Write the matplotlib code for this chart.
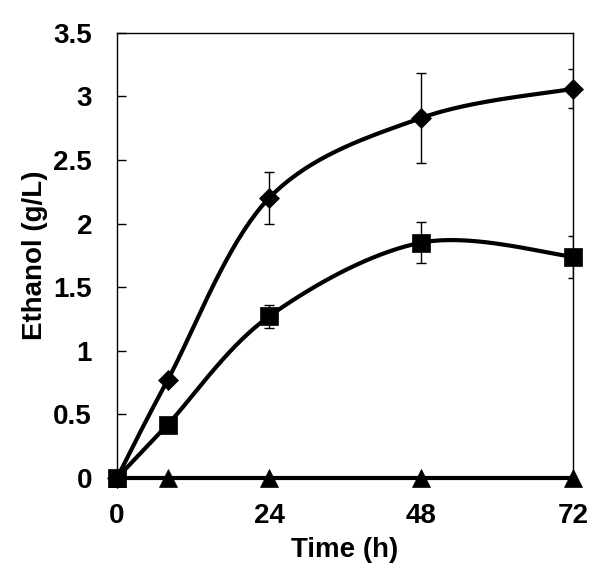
import numpy as np
import matplotlib
matplotlib.use('Agg')
import matplotlib.pyplot as plt

# Data
time_h = [0, 8, 24, 48, 72]
diamond_y = [0, 0.77, 2.20, 2.83, 3.06]
diamond_err = [0, 0, 0.205, 0.355, 0.155]
square_y = [0, 0.42, 1.27, 1.85, 1.74]
square_err = [0, 0, 0.09, 0.16, 0.165]
triangle_y = [0, 0, 0, 0, 0]

plt.rcParams['font.family'] = ['Liberation Sans', 'DejaVu Sans']
plt.rcParams['font.weight'] = 'bold'


def excel_smooth(ax, xs, ys, n=40):
    # Excel style smoothed line (Bezier, tension 1/6) computed in screen space
    pts = ax.transData.transform(np.column_stack([xs, ys]))
    out = [pts[0]]
    m = len(pts)
    for i in range(m - 1):
        p0 = pts[i - 1] if i > 0 else pts[i]
        p1 = pts[i]
        p2 = pts[i + 1]
        p3 = pts[i + 2] if i + 2 < m else pts[i + 1]
        b1 = p1 + (p2 - p0) / 6.0
        b2 = p2 - (p3 - p1) / 6.0
        t = np.linspace(0, 1, n)[1:, None]
        seg = ((1 - t) ** 3) * p1 + 3 * ((1 - t) ** 2) * t * b1 + 3 * (1 - t) * t ** 2 * b2 + t ** 3 * p2
        out.extend(seg)
    out = ax.transData.inverted().transform(np.array(out))
    return out[:, 0], out[:, 1]


fig = plt.figure(figsize=(6, 5.79), dpi=100)
ax = fig.add_axes([0.195, 0.1744, 0.76, 0.769])
ax.set_xlim(0, 72)
ax.set_ylim(0, 3.5)

for y, err, mk, ms in [(diamond_y, diamond_err, 'D', 10.5),
                       (square_y, square_err, 's', 13),
                       (triangle_y, None, '^', 13.5)]:
    sx, sy = excel_smooth(ax, time_h, y)
    ax.plot(sx, sy, color='black', linewidth=3.0, solid_capstyle='round', clip_on=False, zorder=3)
    if err is not None:
        ax.errorbar(time_h, y, yerr=err, fmt='none', ecolor='black', elinewidth=1.0,
                    capsize=3.5, capthick=1.0, zorder=2)
    ax.plot(time_h, y, linestyle='none', marker=mk, markersize=ms, color='black',
            markeredgewidth=0.5, clip_on=False, zorder=4)

ax.set_xticks([0, 24, 48, 72])
ax.set_yticks(np.arange(0, 3.51, 0.5))
ax.set_yticklabels(['0', '0.5', '1', '1.5', '2', '2.5', '3', '3.5'])
ax.tick_params(axis='y', direction='in', length=6.5, width=1.0, pad=18, labelsize=20)
ax.tick_params(axis='x', length=0, pad=18, labelsize=20)
for s in ax.spines.values():
    s.set_linewidth(1.0)

ax.set_xlabel('Time (h)', fontsize=20, fontweight='bold', labelpad=6)
ax.set_ylabel('Ethanol (g/L)', fontsize=20, fontweight='bold', labelpad=4)

plt.savefig('out.png', dpi=100)
